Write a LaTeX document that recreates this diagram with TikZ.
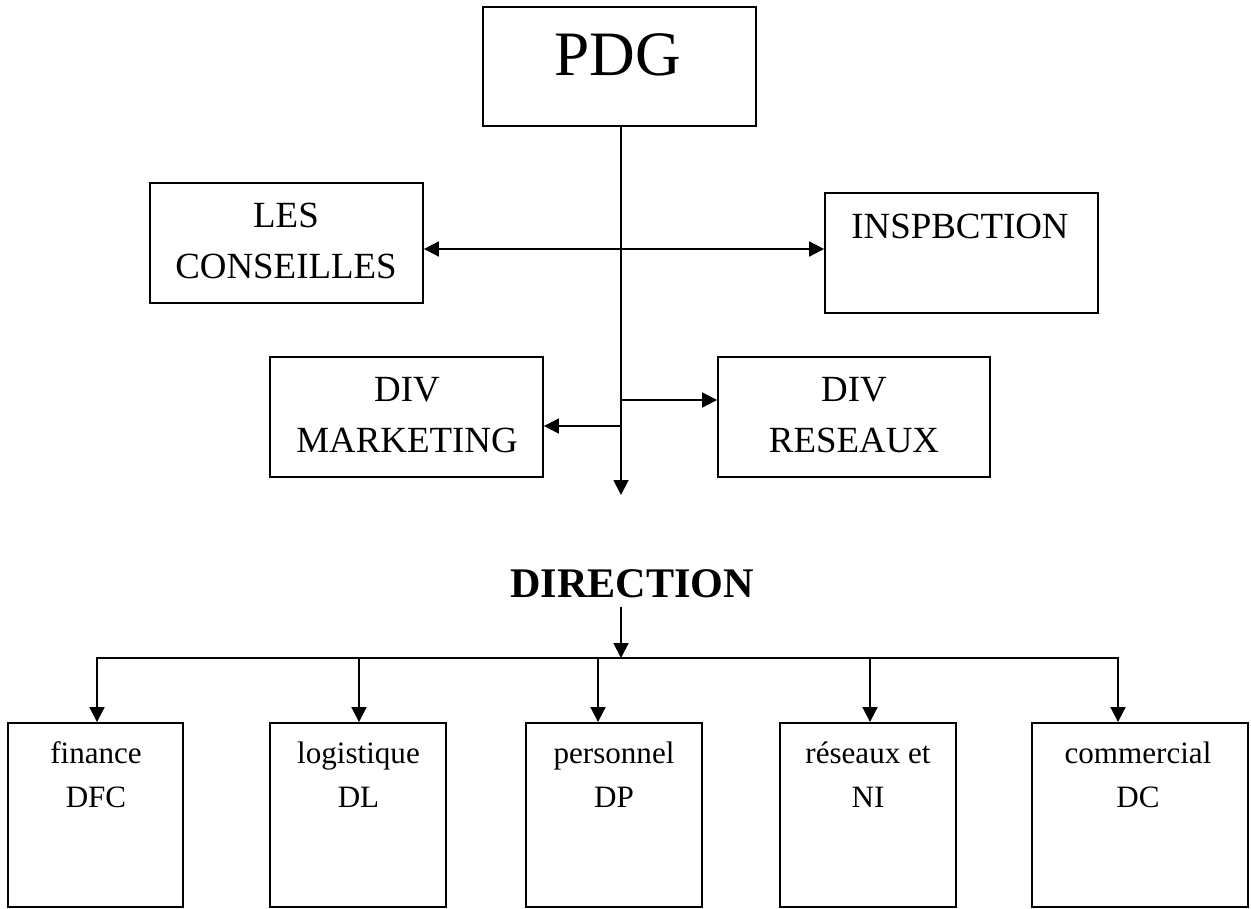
\documentclass[tikz,border=0pt]{standalone}
\usepackage{fontspec}
\setmainfont{Liberation Serif}
\usetikzlibrary{arrows.meta}
\begin{document}
\begin{tikzpicture}[x=0.02cm,y=-0.02cm,
  box/.style={draw, line width=1.1pt, inner sep=0pt},
  wire/.style={line width=1.1pt, line cap=rect},
  arr/.style={line width=1.1pt, -{Triangle[length=8.5pt,width=8.5pt]}},
  twoway/.style={line width=1.1pt, {Triangle[length=8.5pt,width=8.5pt]}-{Triangle[length=8.5pt,width=8.5pt]}},
  bigtxt/.style={font=\fontsize{36}{40}\selectfont, inner sep=0pt, anchor=base},
  midtxt/.style={font=\fontsize{21}{28.5}\selectfont, align=center, inner sep=0pt, anchor=base},
  lowtxt/.style={font=\fontsize{17.7}{25}\selectfont, align=center, inner sep=0pt, anchor=base},
  headtxt/.style={font=\fontsize{24}{28}\selectfont\bfseries, inner sep=0pt, anchor=base}]
\fill[white] (0,0) rectangle (1251,909);
\useasboundingbox (0,0) rectangle (1251,909);

% top of the chart (text nodes are anchored on the baseline of their last line)
\node[box, minimum width=5.46cm, minimum height=2.38cm] (pdg) at (619.5,66.5) {};
\node[bigtxt] (pdgT) at (618,76) {PDG};

\node[box, minimum width=5.46cm, minimum height=2.40cm] (les) at (286.5,243) {};
\node[midtxt] (lesT) at (286,278) {LES\\CONSEILLES};

\node[box, minimum width=5.46cm, minimum height=2.40cm] (insp) at (961.5,253) {};
\node[midtxt] (inspT) at (960,238) {INSPBCTION};

\node[box, minimum width=5.46cm, minimum height=2.40cm] (mkt) at (406.5,417) {};
\node[midtxt] (mktT) at (407,452) {DIV\\MARKETING};

\node[box, minimum width=5.44cm, minimum height=2.40cm] (res) at (854,417) {};
\node[midtxt] (resT) at (854,452) {DIV\\RESEAUX};

% trunk and its branches
\coordinate (tEnd) at (621,495);
\coordinate (jC) at (621,249);
\coordinate (jR) at (621,400);
\coordinate (jM) at (621,426);
\draw[arr] (pdg.south -| tEnd) -- (tEnd);
\draw[twoway] (les.east |- jC) -- (insp.west |- jC);
\draw[arr] (jR) -- (res.west |- jR);
\draw[arr] (jM) -- (mkt.east |- jM);

% directions
\node[headtxt] (dir) at (632,597) {DIRECTION};
\coordinate (dTop) at (621,607);
\coordinate (dBus) at (621,658);
\draw[arr] (dTop) -- (dBus);

\node[box, minimum width=3.50cm, minimum height=3.68cm] (fin) at (95.5,815) {};
\node[lowtxt] (finT) at (96,807) {finance\\DFC};
\node[box, minimum width=3.52cm, minimum height=3.68cm] (log) at (358,815) {};
\node[lowtxt] (logT) at (358.5,807) {logistique\\DL};
\node[box, minimum width=3.52cm, minimum height=3.68cm] (per) at (614,815) {};
\node[lowtxt] (perT) at (614,807) {personnel\\DP};
\node[box, minimum width=3.52cm, minimum height=3.68cm] (rsx) at (868,815) {};
\node[lowtxt] (rsxT) at (868,807) {réseaux et\\NI};
\node[box, minimum width=4.32cm, minimum height=3.68cm] (com) at (1140,815) {};
\node[lowtxt] (comT) at (1138,807) {commercial\\DC};

\coordinate (aFin) at (97,658);
\coordinate (aLog) at (359,658);
\coordinate (aPer) at (598,658);
\coordinate (aRsx) at (870,658);
\coordinate (aCom) at (1118,658);
\draw[wire] (aFin) -- (aCom);
\draw[arr] (aFin) -- (aFin |- fin.north);
\draw[arr] (aLog) -- (aLog |- log.north);
\draw[arr] (aPer) -- (aPer |- per.north);
\draw[arr] (aRsx) -- (aRsx |- rsx.north);
\draw[arr] (aCom) -- (aCom |- com.north);
\end{tikzpicture}
\end{document}
